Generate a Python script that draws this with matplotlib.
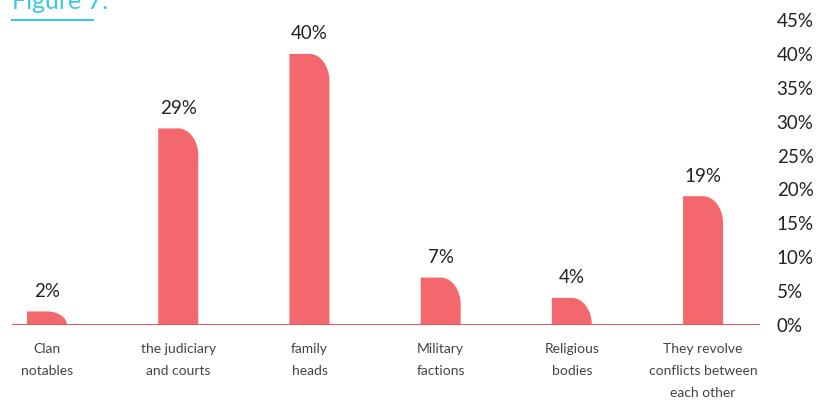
import matplotlib
matplotlib.use("Agg")
import matplotlib.pyplot as plt
from matplotlib.path import Path
from matplotlib.patches import PathPatch
import numpy as np

categories = ["Clan\nnotables", "the judiciary\nand courts", "family\nheads",
              "Military\nfactions", "Religious\nbodies", "They revolve\nconflicts between\neach other"]
values = [2, 29, 40, 7, 4, 19]
value_labels = ["2%", "29%", "40%", "7%", "4%", "19%"]
yticks = [0, 5, 10, 15, 20, 25, 30, 35, 40, 45]
ytick_labels = ["0%", "5%", "10%", "15%", "20%", "25%", "30%", "35%", "40%", "45%"]

W, H = 816, 403
fig = plt.figure(figsize=(W / 100, H / 100), dpi=100)
plt.rcParams['font.family'] = ['Lato', 'DejaVu Sans']

ax_l, ax_r, ax_b, ax_t = 12, 760, 325, 20
ax = fig.add_axes([ax_l / W, (H - ax_b) / H, (ax_r - ax_l) / W, (ax_b - ax_t) / H])

bar_color = "#F2686C"
x0, x1 = -0.267, 5.434
ax.set_xlim(x0, x1)
ax.set_ylim(0, 45)

px_per_x = (ax_r - ax_l) / (x1 - x0)
px_per_y = (ax_b - ax_t) / 45.0
bw = 40 / px_per_x
ry_default = 27 / px_per_y
k = 0.5523

for i, v in enumerate(values):
    left = i - bw / 2
    right = i + bw / 2
    rx = bw / 2
    ry = min(ry_default, v)
    verts = [
        (left, 0), (left, v), (right - rx, v),
        (right - rx + k * rx, v), (right, v - ry + k * ry), (right, v - ry),
        (right, 0), (left, 0)
    ]
    codes = [Path.MOVETO, Path.LINETO, Path.LINETO,
             Path.CURVE4, Path.CURVE4, Path.CURVE4,
             Path.LINETO, Path.CLOSEPOLY]
    ax.add_patch(PathPatch(Path(verts, codes), facecolor=bar_color, edgecolor='none'))
    ax.text(i, v + 20 / px_per_y, value_labels[i], ha='center', va='center',
            fontsize=13.5, color='#222222')

ax.axhline(0, color='#E9575C', lw=1.5, zorder=3)

for s in ax.spines.values():
    s.set_visible(False)
ax.yaxis.tick_right()
ax.set_yticks(yticks)
ax.set_yticklabels(ytick_labels, fontsize=13.5, color='#222222')
ax.tick_params(axis='y', length=0, pad=12)
ax.set_xticks(range(len(categories)))
ax.set_xticklabels(categories, fontsize=10, color='#444444', linespacing=2.0, va='top')
ax.tick_params(axis='x', length=0, pad=13)
for lbl in ax.get_yticklabels():
    lbl.set_horizontalalignment('left')

# Title (cut off at top)
fig.text(12 / W, 1 - 9 / H, "Figure 7:", fontsize=18, color='#3EC6E8', ha='left', va='baseline')
fig.add_artist(plt.Line2D([12 / W, 93 / W], [1 - 20 / H, 1 - 20 / H], color='#3EC6E8', lw=1.5))

fig.savefig("out.png", dpi=100)
